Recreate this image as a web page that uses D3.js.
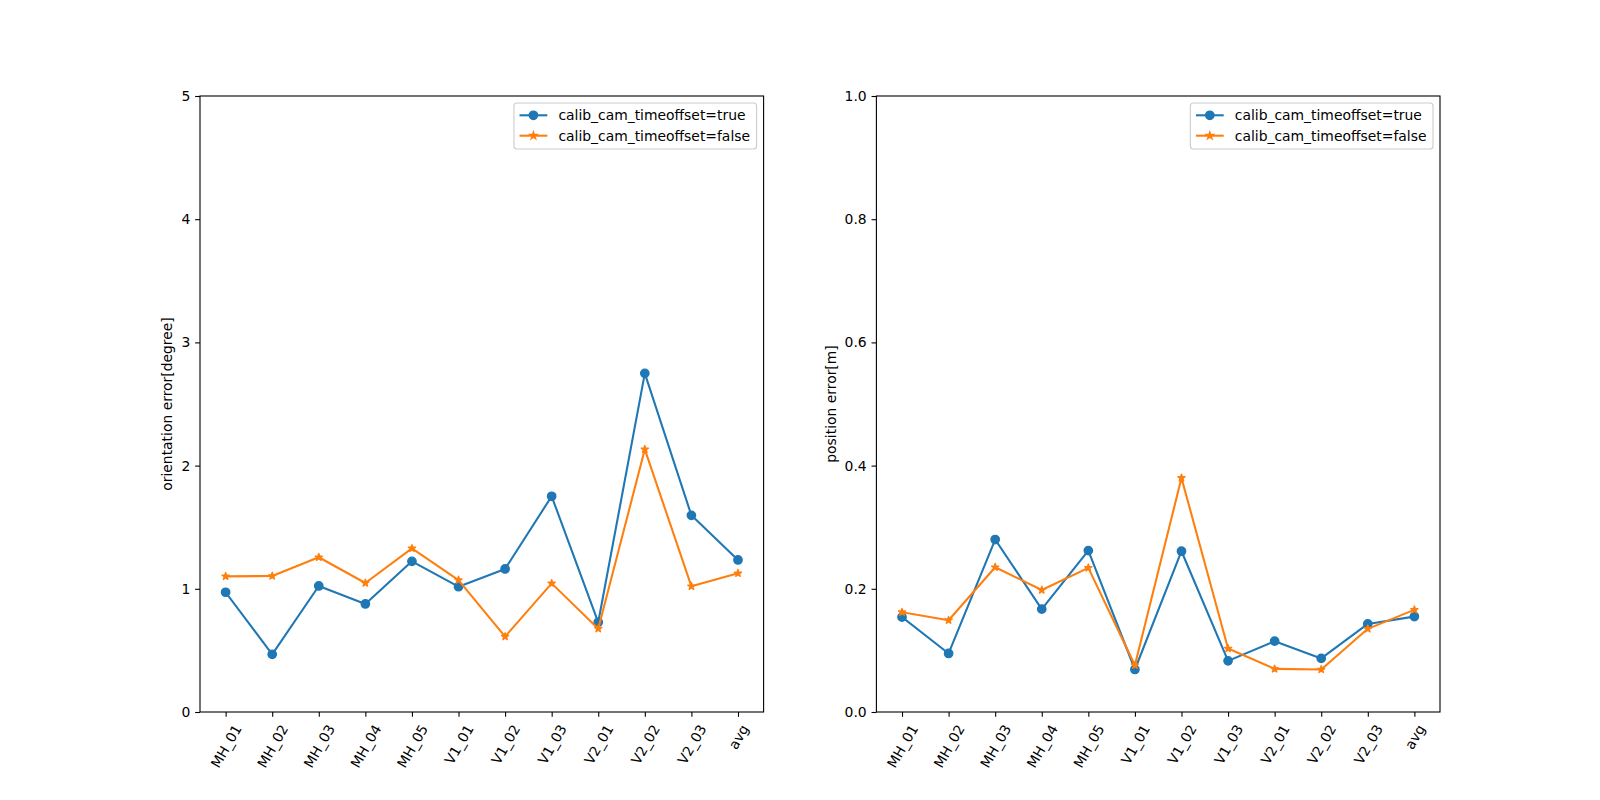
<!DOCTYPE html>
<html>
<head>
<meta charset="utf-8">
<script src="https://cdn.jsdelivr.net/npm/d3@7"></script>
<style>
  body { margin: 0; background: #fff; }
  svg { display: block; font-family: "DejaVu Sans", sans-serif; }
</style>
</head>
<body>
<svg id="chart" width="1600" height="800"></svg>
<script>
const categories = ["MH_01","MH_02","MH_03","MH_04","MH_05","V1_01","V1_02","V1_03","V2_01","V2_02","V2_03","avg"];
const seriesNames = ["calib_cam_timeoffset=true", "calib_cam_timeoffset=false"];

const orientTrue  = [0.972, 0.468, 1.023, 0.877, 1.223, 1.017, 1.161, 1.751, 0.728, 2.749, 1.596, 1.234];
const orientFalse = [1.101, 1.104, 1.256, 1.047, 1.328, 1.071, 0.612, 1.044, 0.676, 2.132, 1.020, 1.126];

const posTrue  = [0.154, 0.095, 0.280, 0.167, 0.262, 0.069, 0.261, 0.083, 0.115, 0.087, 0.143, 0.155];
const posFalse = [0.162, 0.149, 0.235, 0.198, 0.234, 0.076, 0.380, 0.103, 0.070, 0.069, 0.135, 0.166];

const orientTicks = [0, 1, 2, 3, 4, 5];
const posTicks = [0.0, 0.2, 0.4, 0.6, 0.8, 1.0];

const colors = ["#1f77b4", "#ff7f0e"];
const FS = 13.9;
const TICK = 4.86;
const svg = d3.select("#chart");

const panels = [
  { x0: 200, x1: 763.6, yDomain: [0, 5], ticks: orientTicks, fmt: d3.format("d"), label: "orientation error[degree]", data: [orientTrue, orientFalse] },
  { x0: 876.4, x1: 1440, yDomain: [0, 1], ticks: posTicks, fmt: d3.format(".1f"), label: "position error[m]", data: [posTrue, posFalse] }
];
const plotTop = 96, plotBottom = 712;

panels.forEach(p => {
  const g = svg.append("g");
  const x = d3.scaleLinear().domain([-0.55, categories.length - 1 + 0.55]).range([p.x0, p.x1]);
  const y = d3.scaleLinear().domain(p.yDomain).range([plotBottom, plotTop]);

  // lines & markers
  p.data.forEach((vals, si) => {
    const line = d3.line().x((d, i) => x(i)).y(d => y(d));
    g.append("path").datum(vals).attr("d", line)
      .attr("fill", "none").attr("stroke", colors[si]).attr("stroke-width", 2.08)
      .attr("stroke-linejoin", "round").attr("stroke-linecap", "square");
    const sym = si === 0 ? d3.symbol(d3.symbolCircle, Math.PI * 4.17 * 4.17) : d3.symbol(d3.symbolStar, 16);
    g.selectAll(null).data(vals).enter().append("path")
      .attr("d", sym)
      .attr("transform", (d, i) => `translate(${x(i)},${y(d)})`)
      .attr("fill", colors[si]).attr("stroke", colors[si]).attr("stroke-width", 1.39)
      .attr("stroke-linejoin", "round");
  });

  // frame
  g.append("rect").attr("x", p.x0).attr("y", plotTop).attr("width", p.x1 - p.x0).attr("height", plotBottom - plotTop)
    .attr("fill", "none").attr("stroke", "#000").attr("stroke-width", 1.1);

  // y axis
  const yAxis = d3.axisLeft(y).tickValues(p.ticks).tickFormat(p.fmt).tickSizeOuter(0).tickSize(TICK).tickPadding(4.86);
  const ya = g.append("g").attr("transform", `translate(${p.x0},0)`).call(yAxis);
  ya.select(".domain").remove();
  ya.selectAll("line").attr("stroke", "#000").attr("stroke-width", 1.1);
  ya.selectAll("text").attr("font-size", FS).attr("fill", "#000").attr("font-family", "DejaVu Sans");

  // x axis
  const xAxis = d3.axisBottom(x).tickValues(d3.range(categories.length)).tickFormat(i => categories[i]).tickSizeOuter(0).tickSize(TICK);
  const xa = g.append("g").attr("transform", `translate(0,${plotBottom})`).call(xAxis);
  xa.select(".domain").remove();
  xa.selectAll("line").attr("stroke", "#000").attr("stroke-width", 1.1);
  xa.selectAll("text").attr("font-size", FS).attr("fill", "#000").attr("font-family", "DejaVu Sans")
    .each(function() {
      const t = d3.select(this);
      const w = this.getComputedTextLength();
      const h = FS * 1.16;
      const a = Math.PI / 3;
      const bh = w * Math.sin(a) + h * Math.cos(a);
      const cy = TICK + 4.86 + bh / 2;
      t.attr("text-anchor", "middle").attr("dy", null).attr("dominant-baseline", "central")
        .attr("y", 0).attr("transform", `translate(0,${cy}) rotate(-60)`);
    });

  // y label
  let maxW = 0;
  ya.selectAll("text").each(function() { maxW = Math.max(maxW, this.getBBox().width); });
  const lx = p.x0 - TICK - 4.86 - maxW - 5.56 - FS * 0.6;
  g.append("text").attr("transform", `translate(${lx},${(plotTop + plotBottom) / 2}) rotate(-90)`)
    .attr("text-anchor", "middle").attr("dominant-baseline", "central")
    .attr("font-size", FS).attr("fill", "#000").text(p.label);

  // legend
  const lg = g.append("g");
  const texts = [];
  let tw = 0;
  seriesNames.forEach((n, i) => {
    const t = lg.append("text").attr("font-size", FS).attr("fill", "#000").attr("dominant-baseline", "central").text(n);
    texts.push(t);
    tw = Math.max(tw, t.node().getComputedTextLength());
  });
  const pad = 5.56, hl = 27.8, htp = 11.1;
  const bw = pad + hl + htp + tw + pad + 1;
  const bx = p.x1 - 7 - bw;
  const by = plotTop + 7;
  const bhgt = 46;
  lg.insert("rect", ":first-child").attr("x", bx).attr("y", by).attr("width", bw).attr("height", bhgt)
    .attr("rx", 3).attr("fill", "#fff").attr("fill-opacity", 0.8).attr("stroke", "#cccccc").attr("stroke-width", 1.1);
  seriesNames.forEach((n, i) => {
    const cy = by + 12.3 + i * 20.4;
    texts[i].attr("x", bx + pad + hl + htp).attr("y", cy);
    lg.append("line").attr("x1", bx + pad).attr("x2", bx + pad + hl).attr("y1", cy).attr("y2", cy)
      .attr("stroke", colors[i]).attr("stroke-width", 2.08);
    const sym = i === 0 ? d3.symbol(d3.symbolCircle, Math.PI * 4.17 * 4.17) : d3.symbol(d3.symbolStar, 16);
    lg.append("path").attr("d", sym).attr("transform", `translate(${bx + pad + hl / 2},${cy})`)
      .attr("fill", colors[i]).attr("stroke", colors[i]).attr("stroke-width", 1.39);
  });
});
</script>
</body>
</html>
